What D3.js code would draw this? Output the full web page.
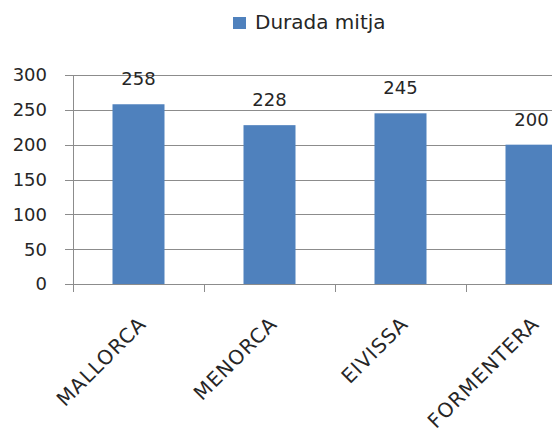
<!DOCTYPE html>
<html>
	<head>
		<style>
			body, html { margin: 0; padding: 0; background: #fff; }
			svg text { font-family: "DejaVu Sans", sans-serif; fill: #262626; }
		</style>
	</head>
	<body>
		<svg id="svg" width="552" height="430"></svg>
		<script src="https://d3js.org/d3.v7.min.js"></script>
		<script>
			// Data
			const islands = ['MALLORCA', 'MENORCA', 'EIVISSA', 'FORMENTERA']
			const durada = [258, 228, 245, 200]
			const yTicks = [0, 50, 100, 150, 200, 250, 300]
			const seriesName = 'Durada mitja'

			const svg = d3.select('#svg')
			const blue = '#4F81BD'
			const grey = '#8c8c8c'
			const barW = 52

			// category bands; the last one runs off the right edge like the original
			const x = d3.scaleBand()
				.domain(islands)
				.range([73, 597])

			const y = d3.scaleLinear()
				.domain([0, 300])
				.range([284, 75])

			const barX = d => x(d) + (x.bandwidth() - barW) / 2

			// gridlines
			svg.append('g')
				.selectAll('line')
				.data(yTicks)
				.join('line')
				.attr('x1', 65)
				.attr('x2', 552)
				.attr('y1', d => Math.round(y(d)) + 0.5)
				.attr('y2', d => Math.round(y(d)) + 0.5)
				.attr('stroke', grey)
				.attr('stroke-width', 1)

			// y axis line
			svg.append('line')
				.attr('x1', 73.5).attr('x2', 73.5)
				.attr('y1', y(300)).attr('y2', y(0))
				.attr('stroke', grey)

			// y tick labels
			svg.append('g')
				.selectAll('text')
				.data(yTicks)
				.join('text')
				.attr('x', 47)
				.attr('y', d => y(d))
				.attr('dy', '0.36em')
				.attr('text-anchor', 'end')
				.style('font-size', '18px')
				.text(d => d)

			// x category ticks
			svg.append('g')
				.selectAll('line')
				.data(islands)
				.join('line')
				.attr('x1', d => Math.round(x(d)) + 0.5)
				.attr('x2', d => Math.round(x(d)) + 0.5)
				.attr('y1', y(0))
				.attr('y2', y(0) + 8)
				.attr('stroke', grey)

			// bars
			svg.append('g')
				.selectAll('rect')
				.data(durada)
				.join('rect')
				.attr('x', (d, i) => barX(islands[i]))
				.attr('width', barW)
				.attr('y', d => y(d))
				.attr('height', d => y(0) - y(d))
				.attr('fill', blue)

			// value labels
			svg.append('g')
				.selectAll('text')
				.data(durada)
				.join('text')
				.attr('x', (d, i) => barX(islands[i]) + barW / 2)
				.attr('y', d => y(d) - 19)
				.attr('text-anchor', 'middle')
				.style('font-size', '18px')
				.text(d => d)

			// category labels, rotated
			svg.append('g')
				.selectAll('text')
				.data(islands)
				.join('text')
				.attr('transform', d => `translate(${x(d) + x.bandwidth() / 2 + 9},${y(0) + 41}) rotate(-45)`)
				.attr('text-anchor', 'end')
				.style('font-size', '20px')
				.style('letter-spacing', '1px')
				.text(d => d)

			// legend
			const legend = svg.append('g').attr('transform', 'translate(233,17)')
			legend.append('rect')
				.attr('width', 13).attr('height', 12)
				.attr('fill', blue)
			legend.append('text')
				.attr('x', 22).attr('y', 12)
				.style('font-size', '20px')
				.text(seriesName)
		</script>
	</body>
</html>
